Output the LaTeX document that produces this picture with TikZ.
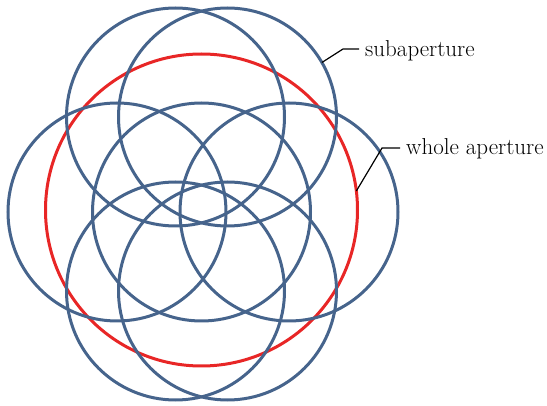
\documentclass[tikz,border=0pt]{standalone}
\usetikzlibrary{calc}
\definecolor{subblue}{RGB}{70,100,140}
\definecolor{wholered}{RGB}{232,38,38}
\begin{document}
\begin{tikzpicture}[x=1pt,y=-1pt,
  subap/.style={circle, draw=subblue, line width=3pt, minimum size=218pt, inner sep=0pt, outer sep=0pt},
  wholeap/.style={circle, draw=wholered, line width=3pt, minimum size=312pt, inner sep=0pt, outer sep=0pt},
  leader/.style={draw=black, line width=1.2pt},
  lbl/.style={font=\fontsize{23}{27}\selectfont, inner sep=0pt, anchor=base west}]
\useasboundingbox (0,0) rectangle (547,406);
% whole aperture
\node[wholeap] (red) at (201.5,210) {};
% subapertures
\node[subap] (tl) at (175.5,117) {};
\node[subap] (tr) at (227.5,117) {};
\node[subap] (ml) at (117,212) {};
\node[subap] (mc) at (201.5,212) {};
\node[subap] (mr) at (289,212) {};
\node[subap] (bl) at (175.5,291) {};
\node[subap] (br) at (227.5,291) {};
% labels
\node[lbl] (sublbl) at (365,57) {subaperture};
\node[lbl] (wholelbl) at (406,155) {whole aperture};
% leaders
\coordinate (k1) at (343,49);
\coordinate (k2) at (382,148);
\coordinate (e1) at ($(sublbl.west)+(-6,0)$);
\coordinate (e2) at ($(wholelbl.west)+(-6,0)$);
\draw[leader] (tr.30) -- (k1) -- (k1 -| e1);
\draw[leader] (red.7) -- (k2) -- (k2 -| e2);
\end{tikzpicture}
\end{document}
